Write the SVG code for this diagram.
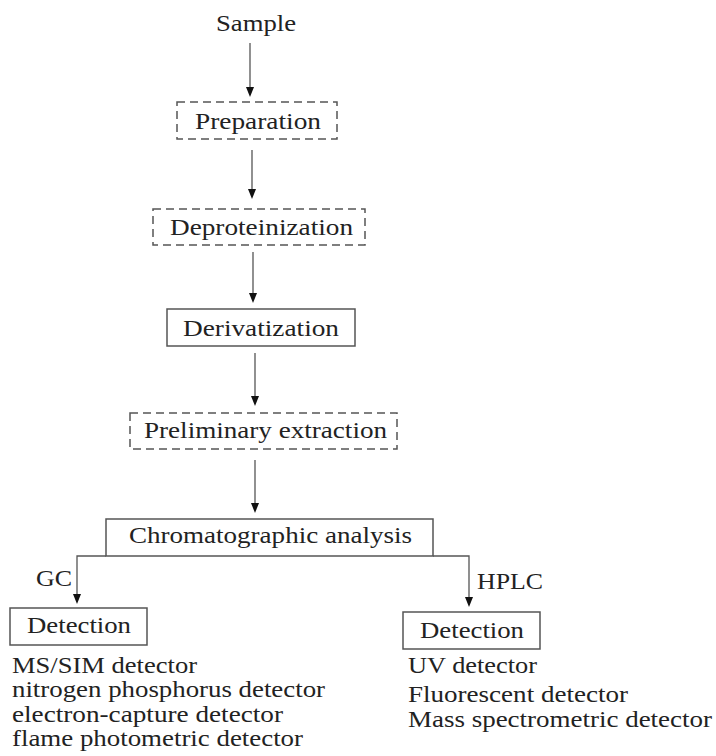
<svg xmlns="http://www.w3.org/2000/svg" width="716" height="756" viewBox="0 0 716 756">
<style>
text{font-family:"Liberation Serif","Times New Roman",serif;font-size:24px;fill:#222}
.box{fill:none;stroke:#555;stroke-width:1.5}
.dash{fill:none;stroke:#555;stroke-width:1.5;stroke-dasharray:8 5}
.con{fill:none;stroke:#555;stroke-width:1.3}
.head{fill:#111}
</style>
<rect width="716" height="756" fill="#fff"/>
<g id="connectors">
<line class="con" x1="250" y1="43" x2="250" y2="90"/>
<line class="con" x1="252" y1="150" x2="252" y2="192"/>
<line class="con" x1="253" y1="252" x2="253" y2="296"/>
<line class="con" x1="255" y1="353" x2="255" y2="399"/>
<line class="con" x1="255" y1="460" x2="255" y2="506"/>
<path class="con" d="M106,556 H77 V597"/>
<path class="con" d="M433,556 H469 V600"/>
<path class="head" d="M246,87 L254,87 L250,97 Z"/>
<path class="head" d="M248,189 L256,189 L252,199 Z"/>
<path class="head" d="M249,293 L257,293 L253,303 Z"/>
<path class="head" d="M251,396 L259,396 L255,406 Z"/>
<path class="head" d="M251,503 L259,503 L255,513 Z"/>
<path class="head" d="M73,594 L81,594 L77,604 Z"/>
<path class="head" d="M465,597 L473,597 L469,607 Z"/>
</g>
<g id="sample">
<text x="216" y="31" textLength="80" lengthAdjust="spacingAndGlyphs">Sample</text>
</g>
<g id="preparation">
<rect class="dash" x="177" y="102" width="160" height="37"/>
<text x="195" y="129" textLength="126" lengthAdjust="spacingAndGlyphs">Preparation</text>
</g>
<g id="deproteinization">
<rect class="dash" x="153" y="209" width="212" height="36"/>
<text x="170" y="235" textLength="183" lengthAdjust="spacingAndGlyphs">Deproteinization</text>
</g>
<g id="derivatization">
<rect class="box" x="167" y="309" width="188" height="37"/>
<text x="183" y="336" textLength="156" lengthAdjust="spacingAndGlyphs">Derivatization</text>
</g>
<g id="preliminary">
<rect class="dash" x="130" y="413" width="267" height="36"/>
<text x="144" y="438" textLength="243" lengthAdjust="spacingAndGlyphs">Preliminary extraction</text>
</g>
<g id="chromatographic">
<rect class="box" x="106" y="519" width="327" height="37"/>
<text x="129" y="543" textLength="283" lengthAdjust="spacingAndGlyphs">Chromatographic analysis</text>
</g>
<g id="gc-label">
<text x="36" y="586" textLength="36" lengthAdjust="spacingAndGlyphs">GC</text>
</g>
<g id="hplc-label">
<text x="477" y="589" textLength="66" lengthAdjust="spacingAndGlyphs">HPLC</text>
</g>
<g id="detection-gc">
<rect class="box" x="10" y="608" width="137" height="37"/>
<text x="27" y="633" textLength="104" lengthAdjust="spacingAndGlyphs">Detection</text>
<text x="12" y="673" textLength="185" lengthAdjust="spacingAndGlyphs">MS/SIM detector</text>
<text x="12" y="697" textLength="313" lengthAdjust="spacingAndGlyphs">nitrogen phosphorus detector</text>
<text x="12" y="722" textLength="271" lengthAdjust="spacingAndGlyphs">electron-capture detector</text>
<text x="12" y="746" textLength="291" lengthAdjust="spacingAndGlyphs">flame photometric detector</text>
</g>
<g id="detection-hplc">
<rect class="box" x="403" y="612" width="137" height="37"/>
<text x="420" y="638" textLength="104" lengthAdjust="spacingAndGlyphs">Detection</text>
<text x="408" y="673" textLength="129" lengthAdjust="spacingAndGlyphs">UV detector</text>
<text x="408" y="702" textLength="220" lengthAdjust="spacingAndGlyphs">Fluorescent detector</text>
<text x="408" y="727" textLength="304" lengthAdjust="spacingAndGlyphs">Mass spectrometric detector</text>
</g>
</svg>
